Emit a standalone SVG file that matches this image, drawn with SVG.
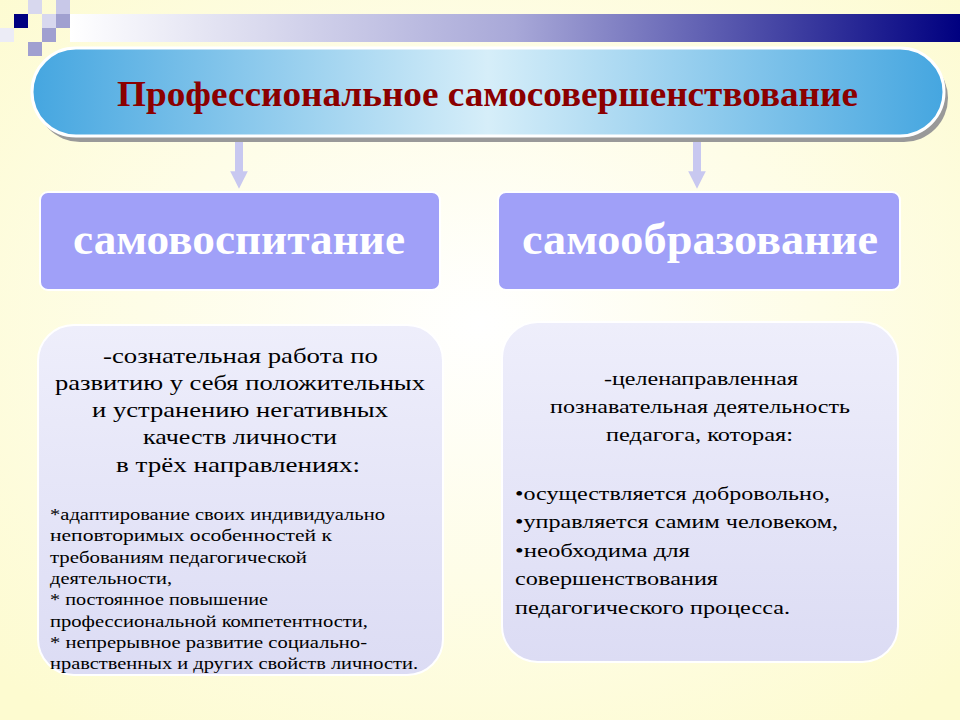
<svg xmlns="http://www.w3.org/2000/svg" width="960" height="720" viewBox="0 0 960 720">
<defs>
<radialGradient id="bg" cx="0.5" cy="0.45" r="0.7"><stop offset="0" stop-color="#ffffff"/><stop offset="1" stop-color="#fdfbd0"/></radialGradient>
<linearGradient id="bar" x1="0" x2="1"><stop offset="0" stop-color="#ffffff"/><stop offset="0.5" stop-color="#a8a8d8"/><stop offset="1" stop-color="#000080"/></linearGradient>
<linearGradient id="pill" x1="0" x2="1"><stop offset="0" stop-color="#45a6e0"/><stop offset="0.5" stop-color="#d6eef9"/><stop offset="1" stop-color="#45a6e0"/></linearGradient>
<linearGradient id="lb" x1="0" y1="0" x2="0" y2="1"><stop offset="0" stop-color="#eeeefb"/><stop offset="1" stop-color="#dcdcf4"/></linearGradient>
<marker id="ah" viewBox="0 0 10 10" refX="5" refY="5" markerWidth="2.2" markerHeight="2.2" orient="auto"><path d="M0,0 L10,5 L0,10 z" fill="#c8c8f0"/></marker>
<style>
text, tspan{font-family:"Liberation Serif","DejaVu Serif",serif}
.h{font-size:44px;font-weight:bold;fill:#ffffff}
.m{font-size:22px;fill:#000}
.s{font-size:16px;fill:#000}
.r{font-size:18px;fill:#000}
.box{fill:#a0a0f8;stroke:#ffffff;stroke-width:2}
.low{fill:url(#lb);stroke:#ffffff;stroke-width:2}
</style>
</defs>
<rect width="960" height="720" fill="url(#bg)"/>
<rect x="70" y="14" width="890" height="28" fill="url(#bar)"/>
<rect x="14" y="14" width="14" height="14" fill="#000080"/>
<rect x="28" y="0" width="14" height="14" fill="#d8d8ee"/>
<rect x="42" y="14" width="14" height="14" fill="#d8d8ee"/>
<rect x="56" y="0" width="14" height="14" fill="#c8c8e8"/>
<rect x="56" y="14" width="14" height="14" fill="#a0a0d0"/>
<rect x="42" y="28" width="14" height="14" fill="#a0a0d0"/>
<rect x="28" y="42" width="14" height="14" fill="#a0a0d0"/>
<rect x="0" y="28" width="14" height="14" fill="#ececf6"/>
<g id="title">
<rect x="36" y="54" width="912" height="88" rx="44" fill="#999"/>
<rect x="32" y="48" width="912" height="88" rx="44" fill="url(#pill)" stroke="#ffffff" stroke-width="3"/>
<text x="117" y="106" font-size="35" font-weight="bold" fill="#8b0000" textLength="741" lengthAdjust="spacingAndGlyphs">Профессиональное самосовершенствование</text>
</g>
<g id="connectors" stroke="#c8c8f0" stroke-width="8" fill="none">
<line x1="239" y1="142" x2="239" y2="180" marker-end="url(#ah)"/>
<line x1="697" y1="142" x2="697" y2="180" marker-end="url(#ah)"/>
</g>
<g id="n1"><rect x="40" y="192" width="400" height="98" rx="8" class="box"/><text x="73" y="254" class="h" textLength="332" lengthAdjust="spacingAndGlyphs">самовоспитание</text></g>
<g id="n2"><rect x="498" y="192" width="402" height="98" rx="8" class="box"/><text x="522" y="254" class="h" textLength="356" lengthAdjust="spacingAndGlyphs">самообразование</text></g>
<g id="n3"><rect x="38" y="325" width="405" height="350" rx="36" class="low"/>
<text class="m" x="103" y="363" textLength="275" lengthAdjust="spacingAndGlyphs">-сознательная работа по</text>
<text class="m" x="55" y="390" textLength="370" lengthAdjust="spacingAndGlyphs">развитию у себя положительных</text>
<text class="m" x="92" y="417" textLength="296" lengthAdjust="spacingAndGlyphs">и устранению негативных</text>
<text class="m" x="143" y="444" textLength="194" lengthAdjust="spacingAndGlyphs">качеств личности</text>
<text class="m" x="116" y="472" textLength="244" lengthAdjust="spacingAndGlyphs">в трёх направлениях:</text>
<text class="s" x="50" y="520" textLength="335" lengthAdjust="spacingAndGlyphs">*адаптирование своих индивидуально</text>
<text class="s" x="50" y="541" textLength="282" lengthAdjust="spacingAndGlyphs">неповторимых особенностей к</text>
<text class="s" x="50" y="563" textLength="257" lengthAdjust="spacingAndGlyphs">требованиям педагогической</text>
<text class="s" x="50" y="584" textLength="122" lengthAdjust="spacingAndGlyphs">деятельности,</text>
<text class="s" x="50" y="605" textLength="218" lengthAdjust="spacingAndGlyphs">* постоянное повышение</text>
<text class="s" x="50" y="627" textLength="318" lengthAdjust="spacingAndGlyphs">профессиональной компетентности,</text>
<text class="s" x="50" y="648" textLength="317" lengthAdjust="spacingAndGlyphs">* непрерывное развитие социально-</text>
<text class="s" x="50" y="669" textLength="368" lengthAdjust="spacingAndGlyphs">нравственных и других свойств личности.</text>
</g>
<g id="n4"><rect x="502" y="322" width="396" height="340" rx="36" class="low"/>
<text class="r" x="604" y="385" textLength="194" lengthAdjust="spacingAndGlyphs">-целенаправленная</text>
<text class="r" x="550" y="413" textLength="300" lengthAdjust="spacingAndGlyphs">познавательная деятельность</text>
<text class="r" x="606" y="441" textLength="187" lengthAdjust="spacingAndGlyphs">педагога, которая:</text>
<text class="r" x="515" y="500" textLength="315" lengthAdjust="spacingAndGlyphs">•осуществляется добровольно,</text>
<text class="r" x="515" y="528" textLength="323" lengthAdjust="spacingAndGlyphs">•управляется самим человеком,</text>
<text class="r" x="515" y="557" textLength="175" lengthAdjust="spacingAndGlyphs">•необходима для</text>
<text class="r" x="515" y="585" textLength="203" lengthAdjust="spacingAndGlyphs">совершенствования</text>
<text class="r" x="515" y="614" textLength="275" lengthAdjust="spacingAndGlyphs">педагогического процесса.</text>
</g>
</svg>
